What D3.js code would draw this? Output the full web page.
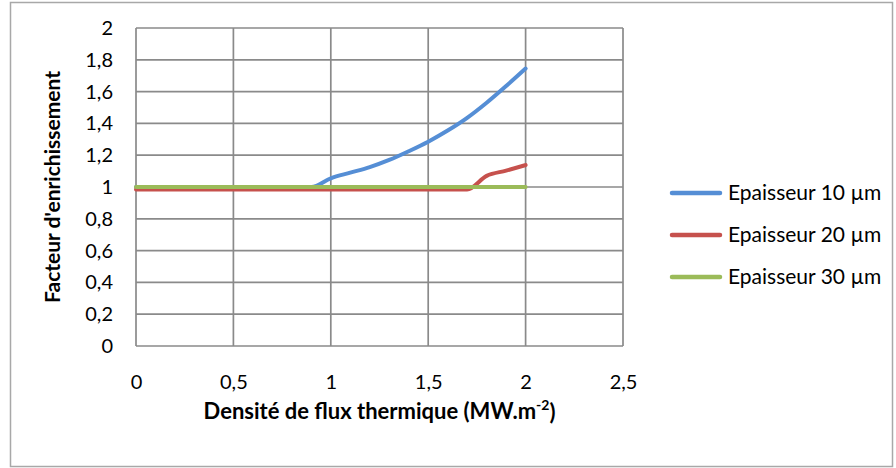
<!DOCTYPE html>
<html><head><meta charset="utf-8">
<script src="https://cdn.jsdelivr.net/npm/d3@7"></script>
<style>body{margin:0;background:#fff}svg{display:block}text{font-family:Lato,"Open Sans",sans-serif;fill:#000}</style>
</head><body><svg id="c" width="896" height="468"></svg>
<script>
const xValues = [0,0.1,0.2,0.3,0.4,0.5,0.6,0.7,0.8,0.9,1.0,1.1,1.2,1.3,1.4,1.5,1.6,1.7,1.8,1.9,2.0];
const epaisseur10 = [1,1,1,1,1,1,1,1,1,1,1.055,1.09,1.125,1.17,1.225,1.285,1.355,1.435,1.53,1.635,1.745];
const epaisseur20 = [0.985,0.985,0.985,0.985,0.985,0.985,0.985,0.985,0.985,0.985,0.985,0.985,0.985,0.985,0.985,0.985,0.985,0.985,1.07,1.103,1.138];
const epaisseur30 = [1,1,1,1,1,1,1,1,1,1,1,1,1,1,1,1,1,1,1,1,1];
const seriesNames = ["Epaisseur 10 µm","Epaisseur 20 µm","Epaisseur 30 µm"];
const seriesColors = ["#558ed5","#c6514d","#9bbb59"];
const xTicks = [0,0.5,1,1.5,2,2.5];
const yTicks = [0,0.2,0.4,0.6,0.8,1,1.2,1.4,1.6,1.8,2];
const xTitle = "Densité de flux thermique (MW.m";
const yTitle = "Facteur d'enrichissement";

const svg = d3.select("#c");
const fmt = d => String(d).replace(".", ",");
const x = d3.scaleLinear().domain([0,2.5]).range([136,623]);
const y = d3.scaleLinear().domain([0,2]).range([346,28]);
const grid = "#8a8a8a";

svg.append("rect").attr("x",10.5).attr("y",2.5).attr("width",882).attr("height",464)
  .attr("fill","#fff").attr("stroke","#a8a8a8").attr("stroke-width",1.5);

// gridlines
svg.append("g").selectAll("line").data(yTicks).join("line")
  .attr("x1",x(0)).attr("x2",x(2.5)).attr("y1",d=>y(d)).attr("y2",d=>y(d))
  .attr("stroke",grid).attr("stroke-width",1.7);
svg.append("g").selectAll("line").data(xTicks).join("line")
  .attr("y1",y(0)).attr("y2",y(2)).attr("x1",d=>x(d)).attr("x2",d=>x(d))
  .attr("stroke",grid).attr("stroke-width",1.7);

// axes labels via d3 axes
const yAxis = svg.append("g").attr("transform",`translate(${x(0)},0)`)
  .call(d3.axisLeft(y).tickValues(yTicks).tickFormat(fmt).tickSize(0).tickPadding(23));
const xAxis = svg.append("g").attr("transform",`translate(0,${y(0)})`)
  .call(d3.axisBottom(x).tickValues(xTicks).tickFormat(fmt).tickSize(0).tickPadding(26));
[yAxis,xAxis].forEach(g=>{g.select(".domain").remove();
  g.selectAll("text").attr("font-size",20).attr("font-family","Lato").attr("fill","#000");});
xAxis.selectAll("text").attr("dy","0.35em").attr("y",36);

// lines
const series = [epaisseur10, epaisseur20, epaisseur30];
const line = d3.line().x((d,i)=>x(xValues[i])).y(d=>y(d)).curve(d3.curveMonotoneX);
svg.append("g").selectAll("path").data(series).join("path")
  .attr("d",d=>line(d)).attr("fill","none")
  .attr("stroke",(d,i)=>seriesColors[i]).attr("stroke-width",4)
  .attr("stroke-linecap","round").attr("stroke-linejoin","round");

// titles
const xt = svg.append("text").attr("x",(x(0)+x(2.5))/2).attr("y",411).attr("dy","0.35em")
  .attr("text-anchor","middle").attr("font-size",22).attr("font-weight","bold");
xt.append("tspan").text(xTitle);
xt.append("tspan").attr("font-size",14).attr("dy","-0.6em").text("-2");
xt.append("tspan").attr("dy","0.45em").text(")");
svg.append("text").attr("transform",`translate(53,${(y(0)+y(2))/2}) rotate(-90)`)
  .attr("dy","0.35em").attr("text-anchor","middle").attr("font-size",21).attr("font-weight","bold")
  .text(yTitle);

// legend
const lg = svg.append("g").selectAll("g").data(seriesNames).join("g")
  .attr("transform",(d,i)=>`translate(672,${193+i*42})`);
lg.append("line").attr("x1",0).attr("x2",48).attr("y1",0).attr("y2",0)
  .attr("stroke",(d,i)=>seriesColors[i]).attr("stroke-width",4.5).attr("stroke-linecap","round");
lg.append("text").attr("x",56).attr("dy","0.35em").attr("font-size",21).text(d=>d);
</script></body></html>
